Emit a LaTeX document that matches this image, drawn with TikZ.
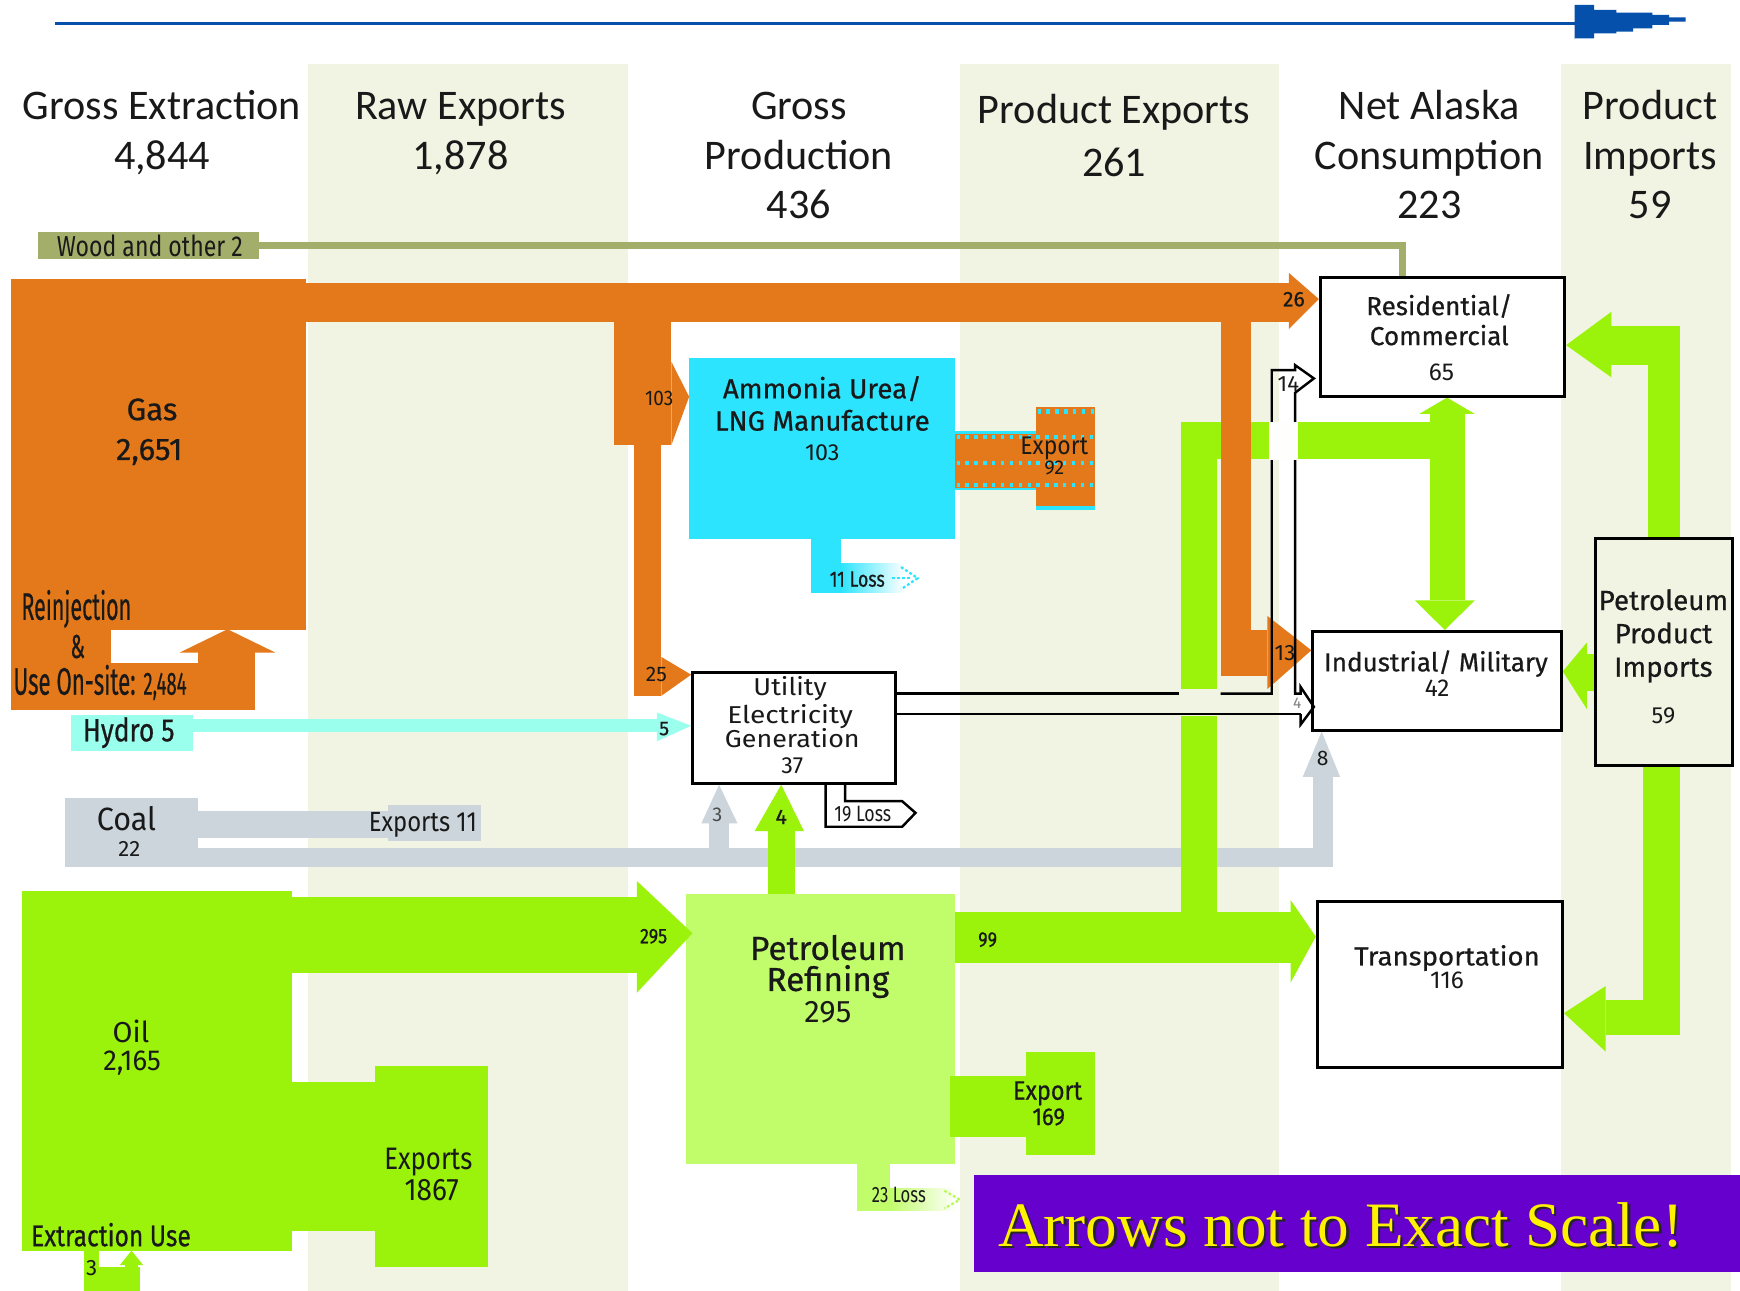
\documentclass[tikz,border=0pt]{standalone}
\usepackage{fontspec}
\usepackage{graphicx}
\setmainfont{Fira Sans}
\newfontfamily\tms{Liberation Serif}
\newfontfamily\lt{Carlito}
\newfontfamily\md{Fira Sans}[FakeBold=0.6]
\definecolor{corg}{RGB}{227,121,26}
\definecolor{ccyn}{RGB}{44,228,253}
\definecolor{chyd}{RGB}{155,255,238}
\definecolor{ccoal}{RGB}{203,213,219}
\definecolor{cgrn}{RGB}{155,242,10}
\definecolor{clgr}{RGB}{193,252,106}
\definecolor{colv}{RGB}{162,174,106}
\definecolor{cbg}{RGB}{241,244,226}
\definecolor{cblu}{RGB}{5,80,170}
\definecolor{cpur}{RGB}{102,0,204}
\definecolor{ctxt}{RGB}{25,25,25}
\newcommand\hs[2]{\scalebox{#1}[1]{#2}}
\newcommand\fz[1]{\fontsize{#1}{#1}\selectfont}
\pgfdeclarelayer{back}
\pgfdeclarelayer{flows}
\pgfsetlayers{back,flows,main}
\begin{document}
\begin{tikzpicture}[x=1pt,y=-1pt,
  lb/.style={inner sep=0pt, anchor=base, text=ctxt},
  hd/.style={inner sep=0pt, anchor=base, text=ctxt, font=\lt\fz{38}},
  bx/.style={draw=black, line width=2.6pt, fill=white, inner sep=0pt},
  blk/.style={inner sep=0pt, outer sep=0pt},
  ol/.style={draw=black, line width=2.2pt, line join=miter}]
\useasboundingbox (0,0) rectangle (1568,1163);
\begin{pgfonlayer}{back}
\fill[white] (0,0) rectangle (1568,1163);
\fill[cbg] (278,58) rectangle (566,1163);
\fill[cbg] (865,58) rectangle (1153,1163);
\fill[cbg] (1407,58) rectangle (1560,1163);
\end{pgfonlayer}

% ---------- boxes (main layer)
\node[bx, minimum width=220, minimum height=107] (res) at (1300,303.5) {};
\node[bx, minimum width=224, minimum height=89] (ind) at (1295,613.5) {};
\node[bx, minimum width=221, minimum height=150] (tra) at (1297.5,887) {};
\node[bx, fill=cbg, minimum width=123, minimum height=205] (imp) at (1499.5,587.5) {};
\node[bx, line width=2.4pt, minimum width=183, minimum height=100] (utl) at (715.5,656) {};

\begin{pgfonlayer}{flows}
% title arrow
\coordinate (tl0) at (50,21);
\coordinate (tl1) at (1420,21);
\draw[cblu, line width=3pt] (tl0) -- (tl1);
\fill[cblu] (1419,4.5) -- (1436.6,4.5) -- (1436.6,9) -- (1456.6,9) -- (1456.6,11.4) -- (1489,11.4) -- (1489,13.5) -- (1504,13.5) -- (1504,15.6) -- (1519,15.6) -- (1519,19.5) -- (1504,19.5) -- (1504,22.5) -- (1489,22.5) -- (1489,25.5) -- (1471.6,25.5) -- (1471.6,28.5) -- (1456.6,28.5) -- (1456.6,30) -- (1436.6,30) -- (1436.6,34.5) -- (1419,34.5) -- (1419,36) -- cycle;

% shape blocks
\node[blk, fill=corg, minimum width=266, minimum height=317] (gas) at (143,409.5) {};
\node[blk, fill=cgrn, minimum width=243, minimum height=324] (oil) at (141.5,965) {};
\node[blk, fill=ccyn, minimum width=240, minimum height=163] (amm) at (741,404.5) {};
\node[blk, fill=clgr, minimum width=243, minimum height=243] (ref) at (739.5,927.5) {};
\node[blk, fill=chyd, minimum width=110, minimum height=33] (hyd) at (119,660.5) {};
\node[blk, fill=ccoal, minimum width=119, minimum height=62] (coal) at (118.5,750) {};
\node[blk, fill=ccoal, minimum width=83, minimum height=32] (cex) at (391.5,741.5) {};
\node[blk, fill=colv, minimum width=199, minimum height=24] (wood) at (134,221.5) {};
\node[blk, fill=cgrn, minimum width=102, minimum height=181] (rex) at (389,1051) {};
\node[blk, fill=cgrn, minimum width=62, minimum height=92.5] (pex) at (956,994.25) {};
\node[blk, fill=corg, minimum width=53, minimum height=92] (aex) at (960.5,413) {};
\node[blk, fill=cpur, minimum width=690, minimum height=87] (ban) at (1223,1102.5) {};

% wood line
\draw[colv, line width=6pt, line join=miter] (wood.east) -- (1264,221.5) -- (res.north -| 1264,0);

% gas
\fill[corg] (10,568) rectangle (100,640);
\fill[corg] (10,597) rectangle (230,640);
\fill[corg] (178,586) rectangle (230,640);
\fill[corg] (162,588) -- (248,588) -- (205,567) -- cycle;
\fill[corg] (gas.north east |- 0,255) rectangle (1162,290);
\fill[corg] (1161.5,246) -- (1188.5,269.5) -- (1161.5,296.5) -- cycle;
\fill[corg] (553,290) rectangle (605,401);
\fill[corg] (605,326) -- (amm.west |- 0,357.5) -- (605,401) -- cycle;
\fill[corg] (571,401) rectangle (596,627);
\fill[corg] (596,592) -- (utl.west |- 0,608) -- (596,627) -- cycle;

% ammonia export
\fill[ccyn] (amm.east |- 0,388) rectangle (934,442);
\fill[corg] (amm.east |- 0,391.5) rectangle (934,439.5);
\fill[ccyn] (934,456) rectangle (987,459.5);
\draw[ccyn, line width=4pt, dash pattern=on 3pt off 5pt] (935,371) -- (987,371);
\draw[ccyn, line width=4pt, dash pattern=on 3pt off 5pt] (862,394) -- (987,394);
\draw[ccyn, line width=4pt, dash pattern=on 3pt off 5pt] (862,417) -- (987,417);
\draw[ccyn, line width=4pt, dash pattern=on 3pt off 5pt] (862,437) -- (987,437);
% ammonia loss
\fill[ccyn] (amm.south -| 731,0) rectangle (758,534);
\shade[left color=ccyn, right color=white] (757.5,508) rectangle (815,534);
\draw[ccyn, line width=2pt, dash pattern=on 2.5pt off 2pt] (812,511) -- (827,521) -- (812,531);
\draw[ccyn, line width=2pt, dash pattern=on 2.5pt off 2pt] (804,521) -- (820,521);

% hydro
\fill[chyd] (hyd.east |- 0,648) rectangle (592,660);
\fill[chyd] (592,642) -- (utl.west |- 0,654) -- (592,668) -- cycle;

% coal
\fill[ccoal] (coal.east |- 0,730.5) rectangle (cex.west |- 0,755);
\fill[ccoal] (coal.east |- 0,764.5) rectangle (1201,781);
\fill[ccoal] (1183,700) rectangle (1201,781);
\fill[ccoal] (1174,700) -- (1207.6,700) -- (ind.south -| 1191,0) -- cycle;
\fill[ccoal] (639,742) rectangle (656.6,765);
\fill[ccoal] (632,742) -- (664.6,742) -- (utl.south -| 648,0) -- cycle;

% oil
\fill[cgrn] (oil.east |- 0,808) rectangle (574,876.6);
\fill[cgrn] (574,794) -- (624,841) -- (574,894.5) -- cycle;
\fill[cgrn] (oil.east |- 0,974.7) rectangle (rex.west |- 0,1109);
\fill[cgrn] (76,1127) rectangle (89,1163);
\fill[cgrn] (76,1142) rectangle (126,1163);
\fill[cgrn] (113,1138) rectangle (124,1163);
\fill[cgrn] (108,1140) -- (129,1140) -- (118.5,1127) -- cycle;

% refinery outputs and green network
\fill[cgrn] (ref.east |- 0,822) rectangle (1163,868);
\fill[cgrn] (1163,811) -- (tra.west |- 0,844) -- (1163,885.5) -- cycle;
\fill[cgrn] (1064,380) rectangle (1097,621);
\fill[cgrn] (1064,645.5) rectangle (1097,822);
\fill[cgrn] (1064,380) rectangle (1320,414);
\fill[cgrn] (1289,373) rectangle (1320,541);
\fill[cgrn] (1279,373) -- (1329,373) -- (res.south -| 1304,0) -- cycle;
\fill[cgrn] (1275,541) -- (1329,541) -- (ind.north -| 1302,0) -- cycle;
% orange 13 over green
\fill[corg] (1100,290) rectangle (1127,609);
\fill[corg] (1100,568) rectangle (1142,609);
\fill[corg] (1142,555) -- (ind.west |- 0,586) -- (1142,621) -- cycle;
% green 4 to utility
\fill[cgrn] (692,749) rectangle (ref.north -| 716,0);
\fill[cgrn] (680,749) -- (724.5,749) -- (utl.south -| 704,0) -- cycle;
% refinery export & loss
\fill[cgrn] (856,969.6) rectangle (925,1024.6);
\fill[clgr] (ref.south -| 772,0) rectangle (802,1091);
\shade[left color=clgr, right color=white] (801.5,1071) rectangle (862,1091);
\draw[clgr!80!cgrn, line width=2pt, dash pattern=on 2.5pt off 2pt] (851,1073) -- (865,1081) -- (851,1089);

% imports
\fill[cgrn] (1485,294) rectangle (imp.north -| 1514,0);
\fill[cgrn] (1452,294) rectangle (1514,329);
\fill[cgrn] (1452,281) -- (res.east |- 0,311) -- (1452,340) -- cycle;
\fill[cgrn] (1430,589) rectangle (imp.west |- 0,623);
\fill[cgrn] (1430,579) -- (ind.east |- 0,605) -- (1430,639) -- cycle;
\fill[cgrn] (imp.south -| 1481,0) rectangle (1514,933);
\fill[cgrn] (1447,901) rectangle (1514,933);
\fill[cgrn] (1447,888.5) -- (tra.east |- 0,913) -- (1447,947.7) -- cycle;
\end{pgfonlayer}

% ---------- outlined electricity flows
\draw[ol] (utl.east |- 0,625) -- (1062,625);
\draw[ol] (1100,625) -- (1146,625) -- (1146,333.5) -- (1167,333.5) -- (1167,329) -- (1184,341) -- (1167,354) -- (1167,625) -- (1172,625) -- (1172,619) -- (1184,637) -- (1172,653) -- (1172,643.5);
\draw[ol] (utl.east |- 0,643.5) -- (1172,643.5);
\fill[white!92!cbg] (1143.5,380) rectangle (1169.5,414.5);
\draw[ol] (utl.south -| 744,0) -- (744,745) -- (813,745) -- (825,732.5) -- (813,722) -- (761.6,722) -- (utl.south -| 761.6,0);

% ---------- headers
\node[hd] (hA1) at (146,108) {Gross Extraction};
\node[hd] (hA2) at (146,153) {4,844};
\node[hd] (hB1) at (415,108) {Raw Exports};
\node[hd] (hB2) at (415,153) {1,878};
\node[hd] (hC1) at (720,108) {Gross};
\node[hd] (hC2) at (720,153) {Production};
\node[hd] (hC3) at (720,197) {436};
\node[hd] (hD1) at (1004,111) {Product Exports};
\node[hd] (hD2) at (1004,158.6) {261};
\node[hd] (hE1) at (1288,108) {Net Alaska};
\node[hd] (hE2) at (1288,153) {Consumption};
\node[hd] (hE3) at (1288,197) {223};
\node[hd] (hF1) at (1487,108) {Product};
\node[hd] (hF2) at (1487,153) {Imports};
\node[hd] (hF3) at (1487,197) {59};

% ---------- source labels
\node[lb] (tWood) at (135,231) {\fz{26}\hs{0.8}{Wood and other 2}};
\node[lb] (tGas) at (137,378.6) {\md\fz{28}Gas};
\node[lb] (tGasN) at (134.5,414.5) {\md\fz{28}2,651};
\node[lb] (tRe) at (68.8,558.5) {\md\fz{34.5}\hs{0.56}{Reinjection}};
\node[lb] (tAmp) at (70,593) {\md\fz{30}\hs{0.6}{\&}};
\node[lb, anchor=base west] (tUse) at (12,626) {\md\fz{34.5}\hs{0.58}{Use On-site: {\fz{29}2,484}}};
\node[lb] (tHyd) at (116,668) {\md\fz{29}\hs{0.82}{Hydro 5}};
\node[lb] (tCoal) at (114,748) {\fz{29}\hs{0.95}{Coal}};
\node[lb] (tCoalN) at (116.5,772) {\fz{20}22};
\node[lb] (tCex) at (381,749.5) {\fz{25}\hs{0.86}{Exports 11}};
\node[lb] (tOil) at (118,939) {\fz{26}Oil};
\node[lb] (tOilN) at (119,965) {\fz{26}\hs{0.95}{2,165}};
\node[lb] (tRex) at (386,1054) {\fz{28}\hs{0.83}{Exports}};
\node[lb] (tRexN) at (389,1082) {\fz{28}\hs{0.9}{1867}};
\node[lb] (tExU) at (100,1123) {\md\fz{27}\hs{0.82}{Extraction Use}};
\node[lb] (tExU3) at (82.5,1149) {\fz{20}3};

% ---------- flow labels
\node[lb] (l103) at (594,365) {\fz{19}\hs{0.9}{103}};
\node[lb] (l25) at (591.5,614) {\fz{19}25};
\node[lb] (l26) at (1166,276) {\md\fz{19}26};
\node[lb] (l13) at (1158,595) {\fz{20}13};
\node[lb] (l14) at (1161,353) {\fz{20}14};
\node[lb, text=gray] (l4g) at (1169,638.5) {\fz{14}4};
\node[lb] (l8) at (1192,690) {\fz{19}8};
\node[lb] (l5) at (598.5,662.5) {\md\fz{18}5};
\node[lb, text=black!70] (l3) at (646.5,740.5) {\fz{18}3};
\node[lb] (l4) at (704,742.6) {\md\fz{19}4};
\node[lb] (l295) at (589,850) {\md\fz{19}\hs{0.85}{295}};
\node[lb] (l99) at (890,853) {\md\fz{19}\hs{0.85}{99}};
\node[lb] (lpe1) at (944,991) {\md\fz{24}\hs{0.88}{Export}};
\node[lb] (lpe2) at (945,1013.8) {\md\fz{22}\hs{0.9}{169}};
\node[lb] (lae1) at (950,410) {\fz{23}\hs{0.9}{Export}};
\node[lb] (lae2) at (950,428) {\fz{18}92};
\node[lb] (l11) at (772.5,528.7) {\md\fz{20}\hs{0.8}{11 Loss}};
\node[lb] (l19) at (777.5,740) {\fz{20}\hs{0.8}{19 Loss}};
\node[lb] (l23) at (810,1084) {\fz{20}\hs{0.75}{23 Loss}};

% ---------- box labels
\node[lb] (tRes1) at (1297,284) {\md\fz{23.5}Residential/};
\node[lb] (tRes2) at (1297,311) {\md\fz{23.5}Commercial};
\node[lb] (tRes3) at (1299,343) {\fz{22}65};
\node[lb] (tInd1) at (1294,605) {\md\fz{23.5}Industrial/ Military};
\node[lb] (tInd2) at (1295,628) {\fz{22}42};
\node[lb] (tTra1) at (1304,870) {\md\fz{23.5}\hs{1.06}{Transportation}};
\node[lb] (tTra2) at (1304,891) {\fz{22}116};
\node[lb] (tUt1) at (712,627) {\fz{22}\hs{1.1}{Utility}};
\node[lb] (tUt2) at (712,652) {\fz{22}\hs{1.15}{Electricity}};
\node[lb] (tUt3) at (714,674) {\fz{22}\hs{1.1}{Generation}};
\node[lb] (tUt4) at (714,697) {\fz{21}37};
\node[lb] (tAm1) at (741,359) {\md\fz{25}Ammonia Urea/};
\node[lb] (tAm2) at (741,388) {\md\fz{25}LNG Manufacture};
\node[lb] (tAm3) at (741,415) {\fz{21}103};
\node[lb] (tPR1) at (746,865) {\md\fz{30}Petroleum};
\node[lb] (tPR2) at (746,893) {\md\fz{30}Refining};
\node[lb] (tPR3) at (746,921.6) {\fz{28}295};
\node[lb] (tPI1) at (1499,549.7) {\md\fz{25}Petroleum};
\node[lb] (tPI2) at (1499,579.6) {\md\fz{25}Product};
\node[lb] (tPI3) at (1499,609.8) {\md\fz{25}Imports};
\node[lb] (tPI4) at (1499,651.8) {\fz{21}59};

% ---------- banner
\node[lb, text=black!85] (bansh) at (1210.5,1125.5) {\tms\fz{57}Arrows not to Exact Scale!};
\node[lb, text=yellow] (bant) at (1208,1123) {\tms\fz{57}Arrows not to Exact Scale!};
\end{tikzpicture}
\end{document}
